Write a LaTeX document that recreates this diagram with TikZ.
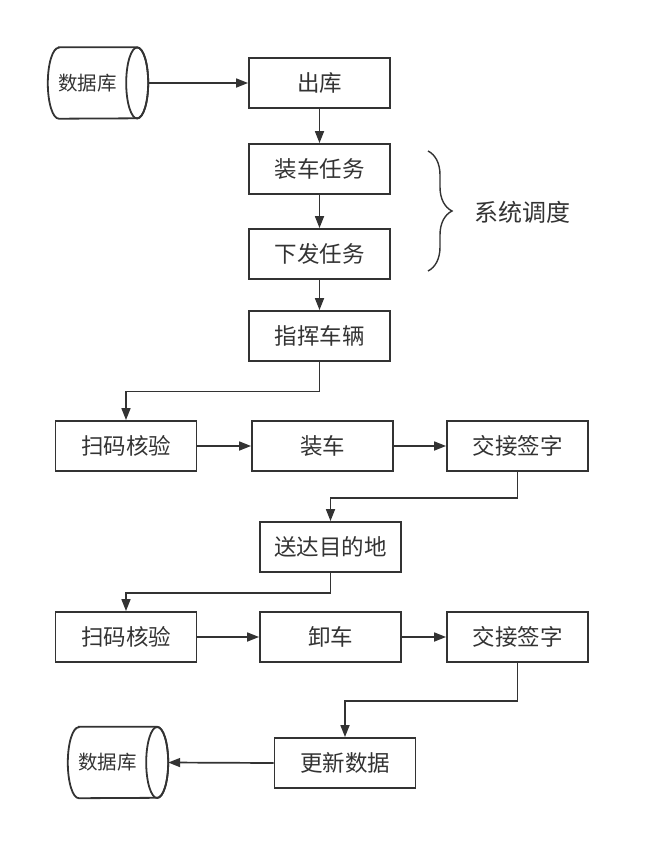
\documentclass[tikz,border=0pt]{standalone}
\usepackage{fontspec}
\setmainfont{Noto Sans CJK SC}
\usetikzlibrary{arrows.meta,decorations.pathreplacing}
\definecolor{ink}{HTML}{333333}
\begin{document}
\begin{tikzpicture}[x=1pt,y=1pt,
  box/.style={draw=ink, line width=1.8pt, minimum width=141pt, minimum height=50pt, inner sep=0pt, text=ink, font=\fontsize{22.5}{26}\selectfont},
  conn/.style={draw=ink, line width=1.7pt, -{Triangle[length=12pt,width=9pt]}},
  dbshape/.style={draw=none, minimum width=100pt, minimum height=71pt, inner sep=0pt},
  dbline/.style={draw=ink, line width=1.8pt},
  dbtext/.style={text=ink, font=\fontsize{19.5}{22}\selectfont, inner sep=0pt}
]
\useasboundingbox (0,0) rectangle (665,-860);

% database top
\node[dbshape] (db1) at (98,-83) {};
\draw[dbline] ([xshift=11pt]db1.north west) -- ([xshift=-11pt]db1.north east)
  arc[start angle=90, end angle=-90, x radius=11pt, y radius=35.5pt]
  -- ([xshift=11pt]db1.south west)
  arc[start angle=270, end angle=90, x radius=11pt, y radius=35.5pt] -- cycle;
\draw[dbline] ([xshift=-11pt]db1.east) ellipse [x radius=11pt, y radius=35.5pt];
\node[dbtext] (db1t) at (87.5,-83) {数据库};

% database bottom
\node[dbshape] (db2) at (118,-762.5) {};
\draw[dbline] ([xshift=11pt]db2.north west) -- ([xshift=-11pt]db2.north east)
  arc[start angle=90, end angle=-90, x radius=11pt, y radius=35.5pt]
  -- ([xshift=11pt]db2.south west)
  arc[start angle=270, end angle=90, x radius=11pt, y radius=35.5pt] -- cycle;
\draw[dbline] ([xshift=-11pt]db2.east) ellipse [x radius=11pt, y radius=35.5pt];
\node[dbtext] (db2t) at (107.5,-762.5) {数据库};

% boxes
\node[box] (out) at (319.5,-83) {出库};
\node[box] (task1) at (319.5,-169) {装车任务};
\node[box] (task2) at (319.5,-254) {下发任务};
\node[box] (cmd) at (319.5,-336) {指挥车辆};

\node[box] (scan1) at (126,-446) {扫码核验};
\node[box] (load1) at (322.5,-446) {装车};
\node[box] (sign1) at (517.5,-446) {交接签字};

\node[box] (dest) at (330.5,-547) {送达目的地};

\node[box] (scan2) at (126,-637) {扫码核验};
\node[box] (unload) at (330.5,-637) {卸车};
\node[box] (sign2) at (517.5,-637) {交接签字};

\node[box] (upd) at (345,-763) {更新数据};

% brace
\draw[draw=ink, line width=1.4pt, decorate, decoration={brace, amplitude=24pt}] (428,-151) -- (428,-271);
\node[text=ink, font=\fontsize{24}{27}\selectfont, inner sep=0pt] (sys) at (522,-212) {系统调度};

% connectors
\draw[conn] (db1.east) -- (out.west);
\draw[conn] (out.south) -- (task1.north);
\draw[conn] (task1.south) -- (task2.north);
\draw[conn] (task2.south) -- (cmd.north);
\draw[conn] (cmd.south) -- ++(0,-29.5) -| (scan1.north);
\draw[conn] (scan1.east) -- (load1.west);
\draw[conn] (load1.east) -- (sign1.west);
\draw[conn] (sign1.south) -- ++(0,-26) -| (dest.north);
\draw[conn] (dest.south) -- ++(0,-20) -| (scan2.north);
\draw[conn] (scan2.east) -- (unload.west);
\draw[conn] (unload.east) -- (sign2.west);
\draw[conn] (sign2.south) -- ++(0,-38) -| (upd.north);
\draw[conn] (upd.west) -- (db2.east);
\end{tikzpicture}
\end{document}
